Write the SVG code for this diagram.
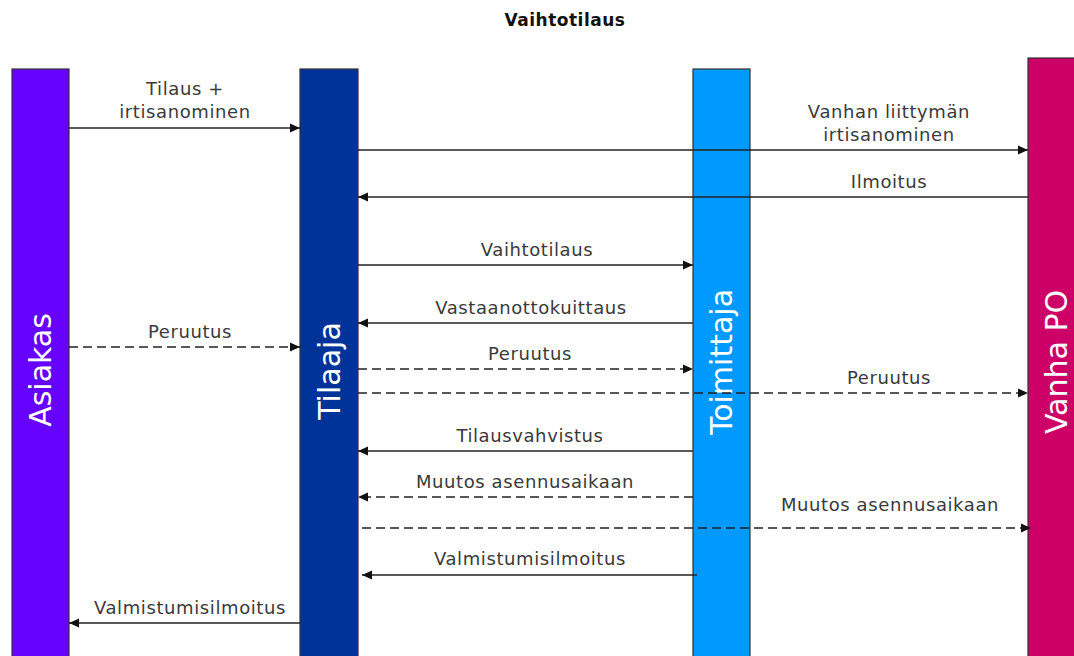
<svg xmlns="http://www.w3.org/2000/svg" width="1074" height="656" viewBox="0 0 1074 656">
<style>
.bar{stroke:#333;stroke-width:1.2}
.lane{font-family:"DejaVu Sans","Verdana",sans-serif;font-size:30px;fill:#fff;text-anchor:middle}
.lbl{font-family:"DejaVu Sans","Verdana",sans-serif;font-size:18px;fill:#3a3a3a;text-anchor:middle;letter-spacing:0.6px}
.title{font-family:"DejaVu Sans","Verdana",sans-serif;font-size:17px;font-weight:bold;fill:#111;text-anchor:middle;letter-spacing:0.5px}
.msg{stroke:#222;stroke-width:1.5;fill:none}
.dash{stroke-dasharray:9 5}
</style>
<defs>
<marker id="ah" markerUnits="userSpaceOnUse" markerWidth="10" markerHeight="10" refX="10" refY="5" orient="auto">
<path d="M0,0.5 L10,5 L0,9.5 z" fill="#111"/>
</marker>
</defs>
<rect width="1074" height="656" fill="#fff"/>
<text class="title" x="565" y="26">Vaihtotilaus</text>

<g id="asiakas">
<rect class="bar" x="12" y="69" width="57" height="600" fill="#6600FF"/>
<text class="lane" transform="translate(51,370) rotate(-90)">Asiakas</text>
</g>
<g id="tilaaja">
<rect class="bar" x="300" y="69" width="58" height="600" fill="#003399"/>
<text class="lane" transform="translate(340,371) rotate(-90)">Tilaaja</text>
</g>
<g id="toimittaja">
<rect class="bar" x="693" y="69" width="57" height="600" fill="#0099FF"/>
<text class="lane" transform="translate(732,362) rotate(-90)">Toimittaja</text>
</g>
<g id="vanha-po">
<rect class="bar" x="1028" y="58" width="56" height="610" fill="#CC0066"/>
<text class="lane" transform="translate(1067,362) rotate(-90)">Vanha PO</text>
</g>

<g id="connectors">
<line class="msg" x1="69" y1="128" x2="300" y2="128" marker-end="url(#ah)"/>
<text class="lbl" x="185" y="95">Tilaus +</text>
<text class="lbl" x="185" y="118">irtisanominen</text>

<line class="msg" x1="358" y1="150" x2="1028" y2="150" marker-end="url(#ah)"/>
<text class="lbl" x="889" y="118">Vanhan liittymän</text>
<text class="lbl" x="889" y="141">irtisanominen</text>

<line class="msg" x1="1028" y1="197" x2="358" y2="197" marker-end="url(#ah)"/>
<text class="lbl" x="889" y="188">Ilmoitus</text>

<line class="msg" x1="358" y1="265" x2="693" y2="265" marker-end="url(#ah)"/>
<text class="lbl" x="537" y="256">Vaihtotilaus</text>

<line class="msg" x1="693" y1="323" x2="358" y2="323" marker-end="url(#ah)"/>
<text class="lbl" x="531" y="314">Vastaanottokuittaus</text>

<line class="msg dash" x1="69" y1="347" x2="300" y2="347" marker-end="url(#ah)"/>
<text class="lbl" x="190" y="338">Peruutus</text>

<line class="msg dash" x1="358" y1="369" x2="693" y2="369" marker-end="url(#ah)"/>
<text class="lbl" x="530" y="360">Peruutus</text>

<line class="msg dash" x1="358" y1="393" x2="1028" y2="393" marker-end="url(#ah)"/>
<text class="lbl" x="889" y="384">Peruutus</text>

<line class="msg" x1="693" y1="451" x2="358" y2="451" marker-end="url(#ah)"/>
<text class="lbl" x="530" y="442">Tilausvahvistus</text>

<line class="msg dash" x1="693" y1="497" x2="358" y2="497" marker-end="url(#ah)"/>
<text class="lbl" x="525" y="488">Muutos asennusaikaan</text>

<line class="msg dash" x1="362" y1="528" x2="1031" y2="528" marker-end="url(#ah)"/>
<text class="lbl" x="890" y="511">Muutos asennusaikaan</text>

<line class="msg" x1="697" y1="575" x2="362" y2="575" marker-end="url(#ah)"/>
<text class="lbl" x="530" y="565">Valmistumisilmoitus</text>

<line class="msg" x1="300" y1="623" x2="69" y2="623" marker-end="url(#ah)"/>
<text class="lbl" x="190" y="614">Valmistumisilmoitus</text>
</g>
</svg>
